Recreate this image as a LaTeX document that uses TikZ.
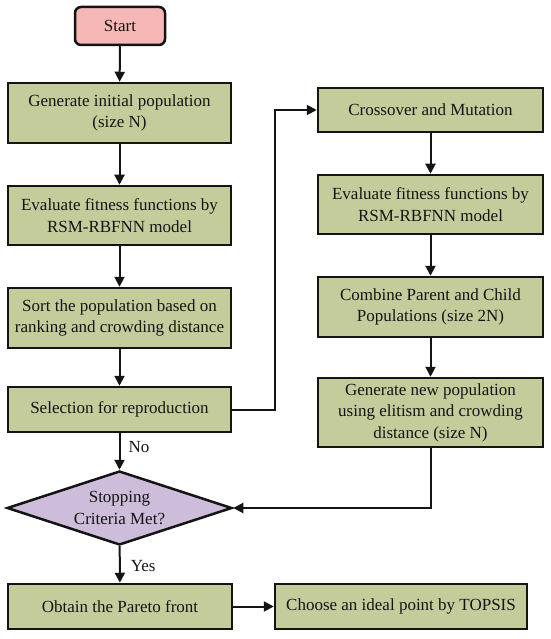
\documentclass[tikz,border=0pt]{standalone}
\usepackage{fontspec}
\setmainfont{Liberation Serif}
\usetikzlibrary{shapes.geometric,arrows.meta}
\definecolor{boxgreen}{HTML}{C5CC9C}
\definecolor{startpink}{HTML}{F5B8B6}
\definecolor{decpurple}{HTML}{CDBCDA}
\definecolor{edge}{HTML}{141414}
\tikzset{
  every node/.style={font=\fontsize{17}{21.5}\selectfont, text=edge},
  procbox/.style={draw=edge, line width=2.5pt, fill=boxgreen, align=center, inner sep=0pt},
  startbox/.style={draw=edge, line width=2.5pt, fill=startpink, rounded corners=6pt, align=center, inner sep=0pt},
  decbox/.style={draw=edge, line width=2.5pt, fill=decpurple, diamond, aspect=3.04, align=center, inner sep=0pt},
  flow/.style={draw=edge, line width=2pt, -{Triangle[length=10pt,width=10pt]}},
  lbl/.style={anchor=west, inner sep=0pt}
}
\begin{document}
\begin{tikzpicture}[x=1pt,y=-1pt]
\useasboundingbox (0,0) rectangle (550,639);
\node[startbox, minimum width=90pt, minimum height=38pt] (start) at (120,26) {Start};
\node[procbox, minimum width=223pt, minimum height=60pt] (gen) at (119.5,113) {Generate initial population\\(size N)};
\node[procbox, minimum width=223pt, minimum height=59pt] (eval1) at (119.5,215.5) {Evaluate fitness functions by\\RSM-RBFNN model};
\node[procbox, minimum width=223pt, minimum height=60pt] (sort) at (119.5,318) {Sort the population based on\\ranking and crowding distance};
\node[procbox, minimum width=223pt, minimum height=45pt] (sel) at (119.5,409.5) {Selection for reproduction};
\node[procbox, minimum width=225pt, minimum height=44pt] (cross) at (430.5,110) {Crossover and Mutation};
\node[procbox, minimum width=225pt, minimum height=59pt] (eval2) at (430.5,204.5) {Evaluate fitness functions by\\RSM-RBFNN model};
\node[procbox, minimum width=225pt, minimum height=60pt] (comb) at (430.5,307) {Combine Parent and Child\\Populations (size 2N)};
\node[procbox, minimum width=225pt, minimum height=69pt] (gennew) at (430.5,412.5) {Generate new population\\using elitism and crowding\\distance (size N)};
\node[decbox, minimum width=225pt, minimum height=74pt] (dec) at (119.5,508) {Stopping\\Criteria Met?};
\node[procbox, minimum width=224pt, minimum height=45pt] (obt) at (120,606.5) {Obtain the Pareto front};
\node[procbox, minimum width=252pt, minimum height=45pt] (choose) at (401,606.5) {Choose an ideal point by TOPSIS};
\coordinate (c1) at (275,409.5);
\coordinate (c2) at (275,110);
\coordinate (c3) at (431,508);

\draw[flow] (start) -- (gen);
\draw[flow] (gen) -- (eval1);
\draw[flow] (eval1) -- (sort);
\draw[flow] (sort) -- (sel);
\draw[flow] (sel.east) -- (c1) -- (c2) -- (cross.west);
\draw[flow] (cross) -- (eval2);
\draw[flow] (eval2) -- (comb);
\draw[flow] (comb) -- (gennew);
\draw[flow] (gennew.south -| c3) -- (c3) -- (dec.east);
\draw[flow] (sel) -- node[lbl, pos=0.38, xshift=8pt] (no) {No} (dec);
\draw[flow] (dec) -- node[lbl, pos=0.55, xshift=10pt] (yes) {Yes} (obt);
\draw[flow] (obt) -- (choose);
\end{tikzpicture}
\end{document}
